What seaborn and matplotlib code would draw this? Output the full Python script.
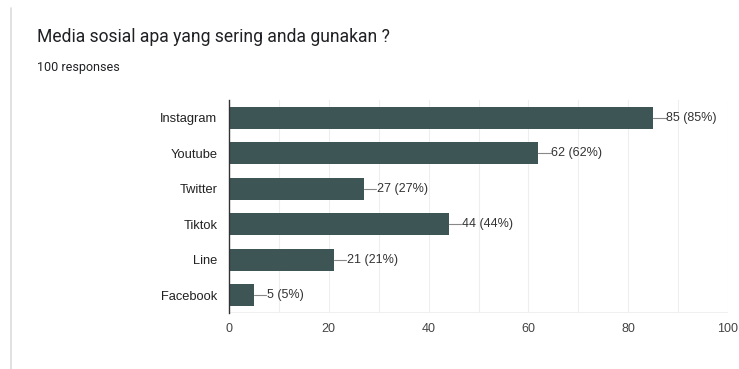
import matplotlib
matplotlib.use("Agg")
import matplotlib.pyplot as plt
from matplotlib.lines import Line2D
import seaborn as sns
import pandas as pd

categories = ["Instagram", "Youtube", "Twitter", "Tiktok", "Line", "Facebook"]
counts = [85, 62, 27, 44, 21, 5]
total = 100
xticks = [0, 20, 40, 60, 80, 100]

df = pd.DataFrame({"cat": categories, "n": counts})

sns.set_theme(style="white")
plt.rcParams['font.family'] = ['Liberation Sans', 'DejaVu Sans']

fig = plt.figure(figsize=(7.39, 3.69), dpi=100)
ax = fig.add_axes([229/739, 1-313/369, (728-229)/739, (313-100)/369])

sns.barplot(data=df, x="n", y="cat", orient="h", color="#3d5655",
            saturation=1, width=0.62, ax=ax, edgecolor="none")

ax.set_xlim(0, 100)
ax.set_ylim(5.5, -0.5)
for v in range(10, 101, 10):
    ax.axvline(v, color="#eeeeee", lw=0.8, zorder=0)
ax.axhline(5.5, color="#eeeeee", lw=1.2, zorder=0)
ax.set_axisbelow(True)

for i, n in enumerate(counts):
    ax.plot([n, n + 2.5], [i, i], color="#888888", lw=0.8, clip_on=False)
    ax.text(n + 2.6, i, f"{n} ({round(n*100/total)}%)", va="center", ha="left",
            fontsize=9, color="#333333")

ax.set_xticks(xticks)
ax.set_xticklabels([str(t) for t in xticks])
ax.set_xlabel("")
ax.set_ylabel("")
ax.tick_params(axis="x", length=0, pad=7, labelsize=9, labelcolor="#444444")
ax.tick_params(axis="y", length=0, pad=8.5, labelsize=9.3, labelcolor="#222222")
for s in ["top", "right", "bottom"]:
    ax.spines[s].set_visible(False)
ax.spines["left"].set_color("#333333")
ax.spines["left"].set_linewidth(1.0)

fig.text(37/739, 1-37/369, "Media sosial apa yang sering anda gunakan ?",
         fontsize=12.65, color="#202124", va="center", ha="left",
         family=["Roboto", "DejaVu Sans"])
fig.text(37/739, 1-67/369, "100 responses", fontsize=9, color="#202124",
         va="center", ha="left", family=["Roboto", "DejaVu Sans"])
fig.add_artist(Line2D([11/739, 11/739], [0, 1-8/369], transform=fig.transFigure,
                      color="#dadce0", lw=1.2))

fig.savefig("out.png", dpi=100, facecolor="white")
